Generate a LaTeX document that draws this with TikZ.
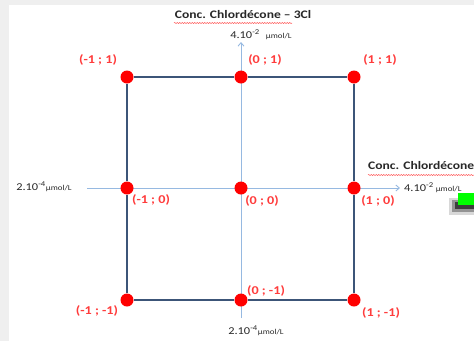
\documentclass[tikz,border=0pt]{standalone}
\usepackage{fontspec}
\setmainfont{Carlito}
\usepackage{tikz}
\usetikzlibrary{arrows.meta,decorations.pathmorphing}
\definecolor{pagegr}{RGB}{239,239,239}
\definecolor{axisbl}{RGB}{150,185,225}
\definecolor{boxcol}{RGB}{60,85,120}
\definecolor{ptred}{RGB}{255,0,0}
\definecolor{lblred}{RGB}{255,60,60}
\definecolor{txtgr}{RGB}{40,40,40}
\newcommand{\wide}[1]{\scalebox{1.18}[1]{#1}}
\newcommand{\unitlbl}[1]{\wide{\fontsize{10.5}{12}\selectfont 2.10\textsuperscript{-4}}\wide{\fontsize{7.5}{9}\selectfont µmol/L}}

\begin{document}
\begin{tikzpicture}[x=1pt,y=-1pt,every node/.style={font=\fontsize{11}{13}\selectfont,inner sep=0pt},
  dot/.style={circle,fill=ptred,minimum size=13pt},
  ptlbl/.style={text=lblred,font=\fontsize{12}{14}\selectfont\bfseries},
  axisln/.style={axisbl,line width=0.9pt,-{Straight Barb[length=3.5pt,width=6pt]}},
  boxln/.style={boxcol,line width=1.8pt},
  spell/.style={red!70,line width=0.5pt,decorate,decoration={snake,amplitude=0.5pt,segment length=2.5pt}}]

    % page background and white panel
    \fill[pagegr] (0,0) rectangle (474,341);
    \fill[white] (9,5) rectangle (474,341);
    \useasboundingbox (0,0) rectangle (474,341);
    \clip (0,0) rectangle (474,341);

    % axes
    \coordinate (vbot) at (241,318);
    \coordinate (vtop) at (241,42);
    \coordinate (hleft) at (87,188);
    \coordinate (hright) at (400,188);
    \draw[axisln] (vbot) -- (vtop);
    \draw[axisln] (hleft) -- (hright);

    % design points
    \node[dot] (mp) at (127,77) {};
    \node[dot] (zp) at (241,77) {};
    \node[dot] (pp) at (354,77) {};
    \node[dot] (mz) at (127,188) {};
    \node[dot] (zz) at (241,188) {};
    \node[dot] (pz) at (354,188) {};
    \node[dot] (mm) at (127,300) {};
    \node[dot] (zm) at (241,300) {};
    \node[dot] (pm) at (354,300) {};

    % square of the domain
    \draw[boxln] (mp) -- (zp);
    \draw[boxln] (zp) -- (pp);
    \draw[boxln] (pp) -- (pz);
    \draw[boxln] (pz) -- (pm);
    \draw[boxln] (pm) -- (zm);
    \draw[boxln] (zm) -- (mm);
    \draw[boxln] (mm) -- (mz);
    \draw[boxln] (mz) -- (mp);

    % point labels
    \node[ptlbl] (lmp) at (98,60) {\wide{(-1 ; 1)}};
    \node[ptlbl] (lzp) at (265,60) {\wide{(0 ; 1)}};
    \node[ptlbl] (lpp) at (380,60) {\wide{(1 ; 1)}};
    \node[ptlbl] (lmz) at (151,200) {\wide{(-1 ; 0)}};
    \node[ptlbl] (lzz) at (262,201) {\wide{(0 ; 0)}};
    \node[ptlbl] (lpz) at (378,201) {\wide{(1 ; 0)}};
    \node[ptlbl] (lmm) at (97,311) {\wide{(-1 ; -1)}};
    \node[ptlbl] (lzm) at (266,291) {\wide{(0 ; -1)}};
    \node[ptlbl] (lpm) at (381,313) {\wide{(1 ; -1)}};

    % axis labels
    \node[text=txtgr,font=\fontsize{11.5}{13}\selectfont\bfseries] (ttop) at (243,15) {\wide{Conc. Chlordécone – 3Cl}};
    \node[text=txtgr] (utop) at (261,35) {\wide{\fontsize{10.5}{12}\selectfont 4.10\textsuperscript{-2}}\hspace{6pt}\wide{\fontsize{7.5}{9}\selectfont µmol/L}};
    \node[text=txtgr,anchor=west,font=\fontsize{11.5}{13}\selectfont\bfseries] (tright) at (368,166) {\wide{Conc. Chlordécone}};
    \node[text=txtgr,anchor=west] (uright) at (404,188) {\wide{\fontsize{10.5}{12}\selectfont 4.10\textsuperscript{-2}}\hspace{2pt}\wide{\fontsize{7.5}{9}\selectfont µmol/L}};
    \node[text=txtgr] (uleft) at (44,187) {\unitlbl{}};
    \node[text=txtgr] (ubot) at (256,331) {\unitlbl{}};

    % spell check marks
    \draw[spell] (174,23) -- (292,23);
    \draw[spell] (368,175) -- (474,175);

    % green arrow stub, cut by the edge, with its shadow
    \fill[black!30,opacity=0.5] (449,198) rectangle (474,215);
    \fill[black!60,opacity=0.6] (452,200) rectangle (474,212);
    \fill[black!90,opacity=0.7] (455,202) rectangle (474,209);
    \fill[green] (458,193) rectangle (474,205);

  \end{tikzpicture}
\end{document}
